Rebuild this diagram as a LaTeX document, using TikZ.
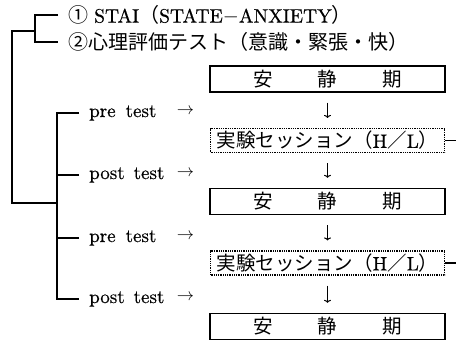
\documentclass[tikz,border=0pt]{standalone}
\usepackage{fontspec}
\newfontfamily\jp{Noto Sans CJK JP}
\newfontfamily\lm{lmroman10-regular.otf}[FakeBold=0.5]
\usetikzlibrary{arrows.meta}
\begin{document}
\begin{tikzpicture}[x=1bp,y=-1bp,
  lbl/.style={anchor=west, inner sep=0pt, font=\fontsize{19bp}{22bp}\selectfont\lm},
  jlbl/.style={anchor=west, inner sep=0pt, font=\fontsize{20bp}{22bp}\selectfont\jp},
  qbox/.style={draw, line width=1.3bp, minimum width=235bp, minimum height=26bp, inner sep=0pt, font=\fontsize{19.5bp}{22bp}\selectfont\jp},
  ebox/.style={draw, line width=1.1bp, dash pattern=on 1bp off 0.8bp, minimum width=234bp, minimum height=24bp, inner sep=0pt, font=\fontsize{19.5bp}{22bp}\selectfont\jp},
  wire/.style={line width=1.2bp},
  darr/.style={-{To[length=3bp,width=7bp]}, line width=1bp, shorten <=10bp, shorten >=10bp},
  rarr/.style={inner sep=0pt, font=\fontsize{17bp}{18bp}\selectfont}
]
\useasboundingbox (0,0) rectangle (457,345);

% top two items
\node[jlbl] (s1) at (68,15) {①\hspace{6bp}{\fontsize{19.5bp}{22bp}\lm STAI}（{\fontsize{19.5bp}{22bp}\lm STATE$-$ANXIETY}）};
\node[jlbl] (s2) at (68,42) {②心理評価テスト（意識・緊張・快）};
\coordinate (j1) at (35,31);
\coordinate (j2) at (57,203);
\draw[wire] ([xshift=-10bp]s1.west) -| (j1) |- ([xshift=-10bp]s2.west);
\draw[wire] (j1) -| ([xshift=-45bp]j2) -- (j2);

% test labels
\node[lbl] (p1) at (89,113) {pre\hspace{10bp}test};
\node[lbl] (p2) at (89,175) {post\hspace{9bp}test};
\node[lbl] (p3) at (89,238) {pre\hspace{10bp}test};
\node[lbl] (p4) at (89,299) {post\hspace{9bp}test};
\node[rarr] (r1) at (185.5,111) {$\rightarrow$};
\node[rarr] (r2) at (185.5,173) {$\rightarrow$};
\node[rarr] (r3) at (185.5,236) {$\rightarrow$};
\node[rarr] (r4) at (185.5,297) {$\rightarrow$};
\draw[wire] ([xshift=-10bp]p1.west) -| (j2) |- ([xshift=-10bp]p4.west);
\draw[wire] ([xshift=-10bp]p2.west) -- (p2.west -| j2);
\draw[wire] ([xshift=-10bp]p3.west) -- (p3.west -| j2);

% right column
\node[qbox] (q1) at (327.5,79) {安\hspace{45bp}静\hspace{45bp}期};
\node[ebox] (e1) at (327.5,140.5) {実験セッション（{\lm H}／{\lm L}）};
\node[qbox] (q2) at (327.5,201.5) {安\hspace{45bp}静\hspace{45bp}期};
\node[ebox] (e2) at (327.5,263) {実験セッション（{\lm H}／{\lm L}）};
\node[qbox] (q3) at (327.5,326.5) {安\hspace{45bp}静\hspace{45bp}期};
\draw[darr] (q1) -- (e1);
\draw[darr] (e1) -- (q2);
\draw[darr] (q2) -- (e2);
\draw[darr] (e2) -- (q3);
\coordinate (c1) at (456,140.5);
\coordinate (c2) at (456,263);
\draw[wire] (e1.east) -- (c1);
\draw[wire] (e2.east) -- (c2);
\end{tikzpicture}
\end{document}
